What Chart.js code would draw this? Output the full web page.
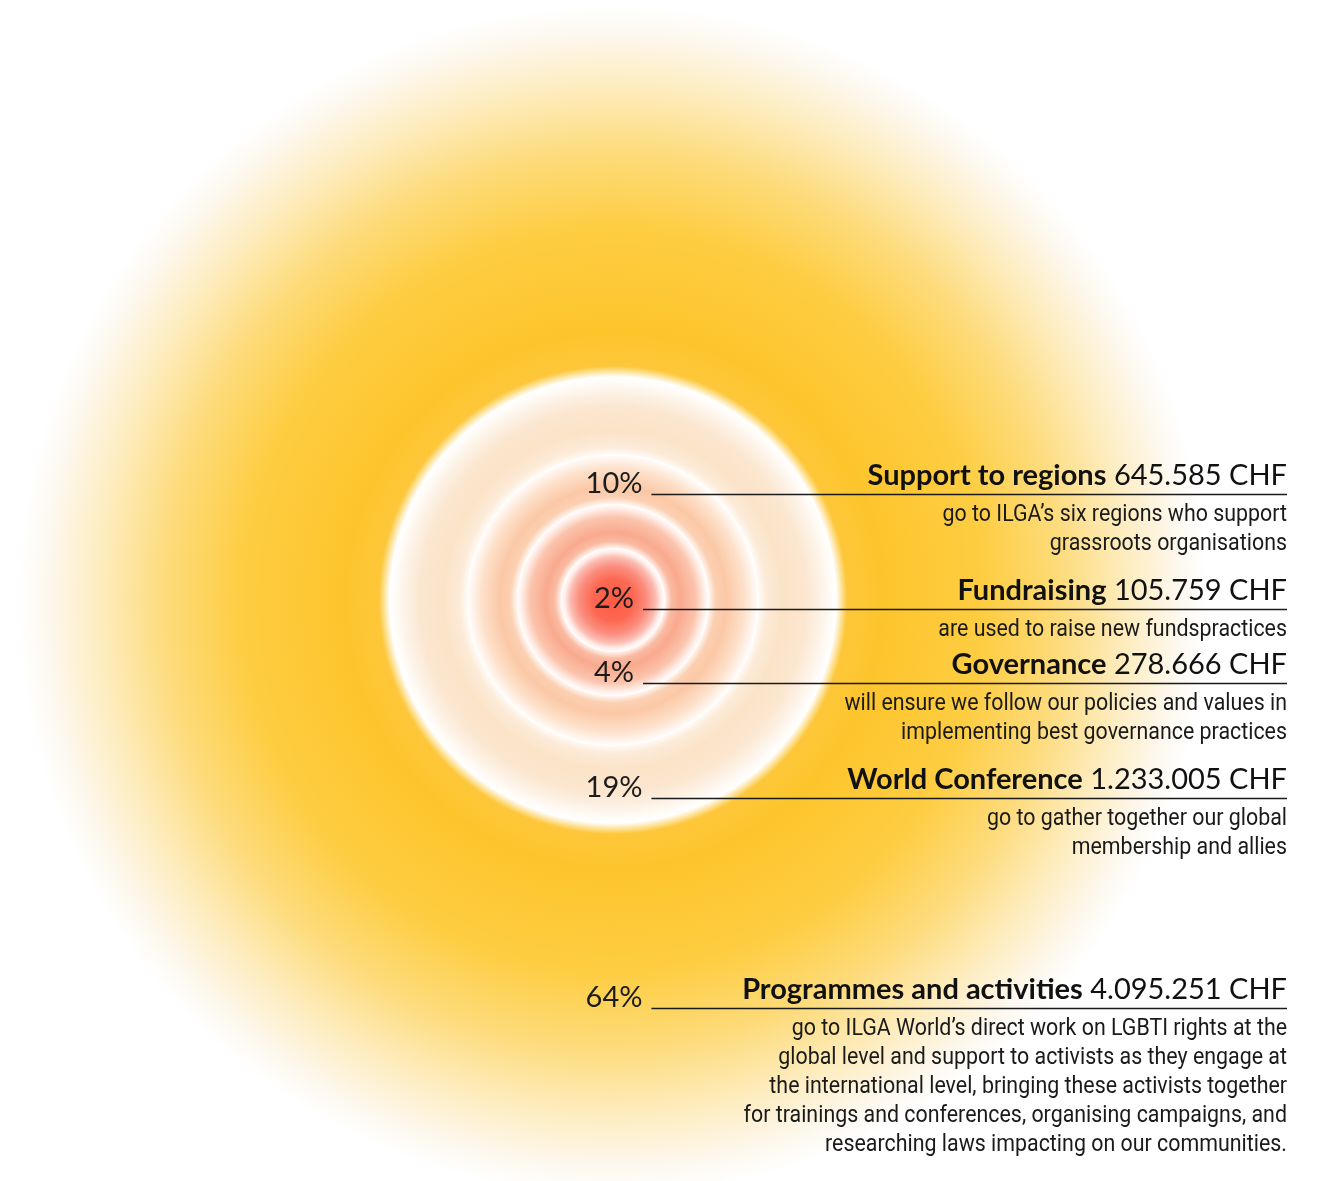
<!DOCTYPE html>
<html>
<head>
<meta charset="utf-8">
<script src="https://cdn.jsdelivr.net/npm/chart.js@4"></script>
<style>
  html, body { margin: 0; padding: 0; background: #fff; overflow: hidden; }
  #wrap { position: relative; width: 1325px; height: 1200px; }
</style>
</head>
<body>
<div id="wrap"><canvas id="rings"></canvas></div>
<script>
// budget split, outer ring first
const categories = ['Programmes and activities', 'World Conference', 'Support to regions', 'Governance', 'Fundraising'];
const percents = [64, 19, 10, 4, 2];
const amountsCHF = [4095251, 1233005, 645585, 278666, 105759];
const descriptions = [
    ['go to ILGA World\u2019s direct work on LGBTI rights at the',
     'global level and support to activists as they engage at',
     'the international level, bringing these activists together',
     'for trainings and conferences, organising campaigns, and',
     'researching laws impacting on our communities.'],
    ['go to gather together our global', 'membership and allies'],
    ['go to ILGA\u2019s six regions who support', 'grassroots organisations'],
    ['will ensure we follow our policies and values in', 'implementing best governance practices'],
    ['are used to raise new fundspractices']
];

// layout / style (not data)
const ringWidths = [372, 77, 50, 44, 52];       // ring thickness in px, outer to inner
const leaderY = [1008, 798, 494, 683, 609];      // y of each leader line
const ringStops = [
    [[0, '#ffffff'], [0.03, '#fdc73a'], [0.12, '#fdc52c'], [0.4, '#fdcd42'], [0.6, '#fddb7a'], [0.78, '#fdecbe'], [0.92, '#fdf8ee'], [1, '#ffffff']],
    [[0, '#fffaf4'], [0.1, '#fcebd8'], [0.3, '#fbe3c8'], [0.6, '#fbe6cf'], [0.82, '#fdf3e8'], [0.94, '#fffcf8'], [1, '#ffffff']],
    [[0, '#fff6f0'], [0.14, '#fbd0b2'], [0.35, '#fbc8a6'], [0.7, '#fde0c9'], [0.9, '#fff4ec'], [1, '#ffffff']],
    [[0, '#fff4f0'], [0.15, '#fabba2'], [0.35, '#f9a98e'], [0.7, '#fbc4ac'], [0.9, '#ffeee8'], [1, '#ffffff']],
    [[0, '#ff5a44'], [0.4, '#fd6852'], [0.65, '#fb8e7e'], [0.82, '#fbbbb1'], [0.93, '#ffeeea'], [1, '#ffffff']]
];

const fmt = n => String(n).replace(/\B(?=(\d{3})+(?!\d))/g, '.');

function ringFill(context) {
    const chart = context.chart;
    const area = chart.chartArea;
    const stops = ringStops[context.datasetIndex];
    const ctrl = chart.getDatasetMeta(context.datasetIndex).controller;
    if (!area || ctrl.outerRadius === undefined) return stops[1][1];
    const cx = (area.left + area.right) / 2;
    const cy = (area.top + area.bottom) / 2;
    const g = chart.ctx.createRadialGradient(cx, cy, ctrl.innerRadius, cx, cy, ctrl.outerRadius);
    stops.forEach(s => g.addColorStop(s[0], s[1]));
    return g;
}

const labelsPlugin = {
    id: 'sideLabels',
    afterDraw(chart) {
        const ctx = chart.ctx;
        const area = chart.chartArea;
        const cx = (area.left + area.right) / 2 + 1;
        const rightX = 1287;
        ctx.save();
        ctx.textBaseline = 'alphabetic';
        categories.forEach((name, i) => {
            const y = leaderY[i];

            // percentage
            ctx.font = '29px Lato';
            ctx.fillStyle = '#1c1c1c';
            ctx.textAlign = 'center';
            const pct = percents[i] + '%';
            ctx.fillText(pct, cx, y - 1);
            const pw = ctx.measureText(pct).width;

            // leader line
            ctx.strokeStyle = '#1a1a1a';
            ctx.lineWidth = 1.3;
            ctx.beginPath();
            ctx.moveTo(cx + pw / 2 + 9, y + 0.5);
            ctx.lineTo(rightX, y + 0.5);
            ctx.stroke();

            // title: bold name + amount
            ctx.textAlign = 'right';
            ctx.fillStyle = '#111';
            ctx.font = '29px Lato';
            const amt = ' ' + fmt(amountsCHF[i]) + ' CHF';
            ctx.fillText(amt, rightX, y - 9);
            const aw = ctx.measureText(amt).width;
            ctx.font = 'bold 29px Lato';
            ctx.fillText(name, rightX - aw, y - 9);

            // description, condensed look
            ctx.font = '23px Roboto';
            ctx.fillStyle = '#1a1a1a';
            descriptions[i].forEach((line, k) => {
                ctx.save();
                ctx.translate(rightX, y + 27 + k * 29);
                ctx.scale(0.93, 1);
                ctx.fillText(line, 0, 0);
                ctx.restore();
            });
        });
        ctx.restore();
    }
};

function build() {
    const ctx = document.getElementById('rings').getContext('2d');
    new Chart(ctx, {
        type: 'doughnut',
        data: {
            labels: ['share'],
            datasets: categories.map((name, i) => ({
                label: name,
                data: [percents[i]],
                weight: ringWidths[i],
                backgroundColor: ringFill,
                borderWidth: 0,
                spacing: 0
            }))
        },
        options: {
            responsive: true,
            maintainAspectRatio: false,
            animation: false,
            events: [],
            cutout: 0,
            layout: { padding: { left: 18, right: 117, top: 5, bottom: 5 } },
            plugins: {
                legend: { display: false },
                tooltip: { enabled: false }
            }
        },
        plugins: [labelsPlugin]
    });
}

Promise.all([
    document.fonts.load('29px Lato'),
    document.fonts.load('bold 29px Lato'),
    document.fonts.load('23px Roboto')
]).then(build, build);
</script>
</body>
</html>
